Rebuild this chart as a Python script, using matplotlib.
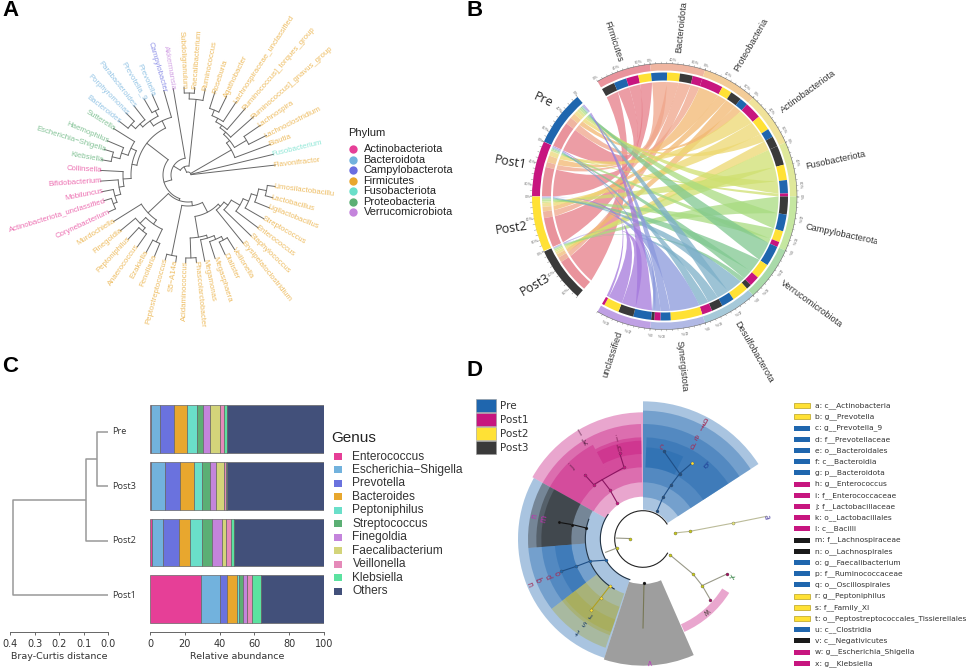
"""Four panel microbiome figure: phylum tree, chord diagram, stacked bars, cladogram."""
import numpy as np

import matplotlib

matplotlib.use("Agg")
import matplotlib.pyplot as plt
from matplotlib.patches import Wedge, Rectangle, PathPatch
from matplotlib.path import Path
from matplotlib.transforms import Bbox

W, H = 969, 670
SANS = "Liberation Sans"

GROUPS = ["Pre", "Post1", "Post2", "Post3"]
GROUP_COLORS = ["#1F66AE", "#C7157F", "#FFE135", "#3A3A3A"]

# ---- panel A
PHYLUM_A = ["Actinobacteriota", "Bacteroidota", "Campylobacterota", "Firmicutes",
            "Fusobacteriota", "Proteobacteria", "Verrucomicrobiota"]
PHYLUM_A_COLORS = ["#E63F97", "#72B2DD", "#6A6EE0", "#E8A72E", "#6ADFC9", "#5BAF74", "#C484DC"]

LEAF_NAMES = ["Flavonifractor", "Fusobacterium", "Blautia", "Lachnoclostridium", "Lachnospira",
              "Ruminococcus]_gnavus_group", "Ruminococcus]_torques_group",
              "Lachnospiraceae_unclassified", "Agathobacter", "Roseburia", "Ruminococcus",
              "Faecalibacterium", "Subdoligranulum", "Akkermansia", "Campylobacter", "Prevotella",
              "Prevotella_9", "Parabacteroides", "Porphyromonas", "Bacteroides", "Sutterella",
              "Haemophilus", "Escherichia\u2212Shigella", "Klebsiella", "Collinsella",
              "Bifidobacterium", "Mobiluncus", "Actinobacteriota_unclassified", "Corynebacterium",
              "Murdochiella", "Finegoldia", "Peptoniphilus", "Anaerococcus", "Ezakiella",
              "Fenollaria", "Peptostreptococcus", "S5\u2212A14a", "Acidaminococcus",
              "Phascolarctobacter", "Megamonas", "Megasphaera", "Dialister", "Veillonella",
              "Erysipelatoclostridium", "Staphylococcus", "Enterococcus", "Streptococcus",
              "Ligilactobacillus", "Lactobacillus", "Limosilactobacillu"]
LEAF_ANGLES = [6.5, 13.6, 20.4, 26.8, 34.5, 41.6, 49.3, 56.6, 63.9, 72, 78.7, 85.6, 92.6, 99.7,
               106, 114, 120, 128, 135, 142, 148, 157, 163, 170, 177, 184, 191, 197, 205,
               212, 219.5, 227, 234.8, 241.6, 247.6, 255, 262, 268.5, 275.5, 281, 288, 295,
               302, 309, 316, 323, 330, 338, 345, 352.5]
LEAF_PHYLA = [3, 4] + [3] * 11 + [6, 2] + [1] * 5 + [5] * 4 + [0] * 5 + [3] * 21

# (radius, children), a child is a leaf number or another clade
LACHNO = (50, [2, (54, [(68, [3, 4]), (57, [5, (60, [6, (64, [7, (70, [8, 9])])])])])])
RUMINO = (76, [10, (82, [11, 12])])
BACTERO = (66, [(72, [15, 16]), (70, [17, (76, [18, 19])])])
BACT_CAMPY = (60, [14, BACTERO])
PROTEO = (63, [20, (70, [21, (78, [22, 23])])])
ACTINO = (65, [24, (70, [25, (76, [26, (80, [27, 28])])])])
LEFT = (52, [BACT_CAMPY, (57, [PROTEO, ACTINO])])
MURDO = (55, [29, (60, [(68, [30, (72, [31, 32])]), (74, [33, 34])])])
PEPTO = (82, [35, 36])
NEGATIVI = (63, [(83, [37, 38]), (66, [39, (70, [40, (74, [41, 42])])])])
BACILLI = (45, [43, (50, [44, (60, [45, (66, [46, (72, [47, (80, [48, 49])])])])])])
LOWER = (27, [MURDO, (31, [PEPTO, (42, [NEGATIVI, BACILLI])])])
TREE = (3, [0, 1, LACHNO, (9, [RUMINO, (17, [13, (25, [LEFT, LOWER])])])])
TREE_TIP = 88

# ---- panel B
PHYLA_B = ["Firmicutes", "Bacteroidota", "Proteobacteria", "Actinobacteriota", "Fusobacteriota",
           "Campylobacterota", "Verrucomicrobiota", "Desulfobacterota", "Synergistota", "unclassified"]
PHYLA_B_COLORS = ["#E9939C", "#EFB5A0", "#F3CC98", "#F0E29A", "#DFE89A",
                  "#C5E7A1", "#A9DAA9", "#A6C9D9", "#B1B9E5", "#BFA0E4"]
LINK_COLORS = ["#E67C87", "#EFA58A", "#F2B870", "#EDD870", "#CFE070",
               "#A8DB80", "#80C890", "#7CAFC8", "#8A98DC", "#A478DC"]
# share of each phylum in each group, rows follow GROUPS
GROUP_SHARES = [
    [0.50, 0.14, 0.10, 0.08, 0.05, 0.04, 0.03, 0.02, 0.02, 0.02],
    [0.57, 0.10, 0.13, 0.09, 0.01, 0.03, 0.02, 0.02, 0.01, 0.02],
    [0.58, 0.13, 0.09, 0.07, 0.03, 0.04, 0.02, 0.02, 0.01, 0.01],
    [0.68, 0.10, 0.07, 0.05, 0.03, 0.03, 0.01, 0.01, 0.01, 0.01],
]
# clockwise order of groups inside each phylum sector, with their shares
PHYLUM_ORDER = [[3, 0, 1, 2], [0, 2, 3, 1], [1, 2, 3, 0], [1, 2, 0, 3], [3, 2, 0, 1],
                [3, 0, 2, 1], [0, 2, 1, 3], [2, 0, 3, 1], [2, 0, 1, 3], [0, 3, 2, 1]]
PHYLUM_SHARES = [[0.26, 0.25, 0.24, 0.25], [0.31, 0.25, 0.25, 0.19], [0.42, 0.20, 0.22, 0.16],
                 [0.33, 0.30, 0.17, 0.20], [0.38, 0.30, 0.26, 0.06], [0.35, 0.33, 0.22, 0.10],
                 [0.40, 0.30, 0.20, 0.10], [0.33, 0.25, 0.22, 0.20], [0.62, 0.20, 0.12, 0.06],
                 [0.35, 0.30, 0.30, 0.05]]

# ---- panel C
GENERA = ["Enterococcus", "Escherichia\u2212Shigella", "Prevotella", "Bacteroides", "Peptoniphilus",
          "Streptococcus", "Finegoldia", "Faecalibacterium", "Veillonella", "Klebsiella", "Others"]
GENUS_COLORS = ["#E63F97", "#72B2DD", "#6A72DE", "#E8A72E", "#6ADFC9", "#5BAF74",
                "#C484DC", "#D3D47A", "#E58AB9", "#5BE2A0", "#42507A"]
BAR_SAMPLES = ["Pre", "Post3", "Post2", "Post1"]
ABUNDANCE = {
    "Pre": [0.6, 5.4, 7.9, 7.3, 5.7, 3.8, 3.8, 5.7, 2.5, 1.3, 56.1],
    "Post3": [0.5, 8.2, 8.6, 7.9, 4.6, 4.4, 3.8, 4.4, 1.5, 0.2, 55.8],
    "Post2": [1.0, 6.7, 9.0, 6.1, 7.3, 5.6, 5.6, 2.3, 3.0, 1.7, 51.7],
    "Post1": [29.3, 11.1, 3.8, 5.6, 1.1, 2.3, 2.3, 0.4, 2.9, 5.2, 35.9],
}
# Bray-Curtis heights of the three merges
MERGE_PRE_POST3 = 0.045
MERGE_POST2 = 0.0915
MERGE_POST1 = 0.389
DIST_TICKS = [0.4, 0.3, 0.2, 0.1, 0.0]
ABUND_TICKS = [0, 20, 40, 60, 80, 100]

# ---- panel D
# theta1, theta2, inner radius, outer radius, colour
CLADE_WEDGES = [
    (33, 90, 88, 413, "#1F66AE"), (33, 90, 125, 385, "#1F66AE"), (33, 90, 170, 345, "#1F66AE"),
    (33, 88, 215, 305, "#1F66AE"), (64, 88, 215, 275, "#1F66AE"),
    (90, 150.8, 127, 380, "#C7157F"), (91, 150.8, 170, 345, "#C7157F"),
    (91, 118, 215, 305, "#C7157F"), (91, 118, 255, 295, "#C7157F"), (118, 150.8, 215, 320, "#C7157F"),
    (150.8, 252, 127, 375, "#1F66AE"),
    (150.8, 184.5, 173, 345, "#222222"), (150.8, 184.5, 215, 320, "#222222"), (150.8, 184.5, 215, 305, "#222222"),
    (184.5, 217.4, 173, 345, "#1F66AE"), (184.5, 217.4, 215, 305, "#1F66AE"), (184.5, 217.4, 215, 265, "#1F66AE"),
    (217.4, 251, 173, 345, "#A8A838"), (217.4, 251, 215, 305, "#A8A838"), (217.4, 251, 255, 295, "#A8A838"),
    (252, 293.6, 135, 380, "#000000"),
    (294, 328, 280, 305, "#C7157F"),
]
# branch polylines as (angle, radius), with branch colour
CLADE_BRANCHES = [
    ([(63.2, 93), (64.4, 139), (62.5, 184), (60.7, 225), (76.5, 270)], "#1F4F86"),
    ([(60.7, 225), (57.2, 271)], "#1F4F86"),
    ([(125.5, 133), (124, 179), (124.6, 216), (132.2, 220), (132.2, 260)], "#8A1560"),
    ([(124.6, 216), (104.8, 222), (105.2, 267)], "#8A1560"),
    ([(169, 173), (168.5, 216), (168.8, 257)], "#111111"),
    ([(210, 127), (202.7, 173), (202.3, 216), (201.6, 263)], "#1F4F86"),
    ([(234.8, 174), (234.3, 218), (233.8, 263)], "#B0A020"),
    ([(271.3, 132), (270, 267)], "#777755"),
    ([(10.7, 97), (9.3, 142), (10, 274), (10.4, 376)], "#BBBB99"),
    ([(-30.4, 93), (-35, 183), (-38.2, 226), (-22.6, 273)], "#999988"),
    ([(-38.2, 226), (-42, 272)], "#999988"),
    ([(178, 38), (178, 80)], "#999988"),
    ([(199, 82), (199.6, 119)], "#999988"),
]
# arcs: radius, theta1, theta2, colour
CLADE_ARCS = [
    (85, 32, 330, "#222222"), (128, 145, 252, "#223344"), (173, 160, 240, "#223344"),
]
# node dots: angle, radius, colour
CLADE_NODES = [
    (63.2, 93, "#1F4F86"), (64.4, 139, "#1F4F86"), (62.5, 184, "#1F4F86"), (60.7, 225, "#1F4F86"),
    (76.5, 270, "#1F4F86"), (57.2, 271, "#FFE135"),
    (125.5, 133, "#C7157F"), (124, 179, "#C7157F"), (132.2, 220, "#C7157F"), (132.2, 260, "#C7157F"),
    (104.8, 222, "#C7157F"), (105.2, 267, "#C7157F"),
    (169, 173, "#111111"), (168.5, 216, "#111111"), (168.8, 257, "#111111"),
    (210, 127, "#1F66AE"), (202.7, 173, "#1F66AE"), (202.3, 216, "#1F66AE"), (201.6, 263, "#1F66AE"),
    (234.8, 174, "#FFE135"), (234.3, 218, "#FFE135"), (233.8, 263, "#FFE135"),
    (271.3, 132, "#111111"),
    (10.7, 97, "#C8C820"), (9.3, 142, "#C8C820"), (10, 274, "#E8E880"),
    (-30.4, 93, "#C8C820"), (-35, 183, "#C8C820"), (-38.2, 226, "#C8C820"),
    (-22.6, 273, "#A0155F"), (-42, 272, "#A0155F"), (178, 38, "#C8C820"), (199, 82, "#C8C820"),
]
CLADE_LETTERS = ["a", "b", "c", "d", "e", "f", "g", "h", "i", "j", "k", "l",
                 "m", "n", "o", "p", "q", "r", "s", "t", "u", "v", "w", "x"]
LETTER_ANGLES = [10, 50, 78.8, 62.1, 62.3, 62.1, 62.3, 104.9, 104.9, 134.9, 121, 120.7,
                 168.4, 168.2, 201.4, 201.7, 201.5, 235.3, 235.2, 234.9, 201.8, 273, -48.8, -22.9]
LETTER_RADII = [375, 288, 283, 314, 344, 374, 401, 280, 311, 305, 336, 368,
                304, 332, 274, 303, 333, 276, 307, 339, 361, 369, 288, 288]
LETTER_COLORS = ["#5A4FA8", "#1F3F96", "#A0305A", "#A0305A", "#A0305A", "#A0305A", "#A0305A",
                 "#7A1A50", "#7A1A50", "#552244", "#552244", "#552244", "#C030B0", "#C030B0",
                 "#A0305A", "#A0305A", "#A0305A", "#1F3F66", "#1F3F66", "#1F3F66", "#A0305A",
                 "#C030C0", "#554444", "#2F7F3F"]
TAXA = ["c__Actinobacteria", "g__Prevotella", "g__Prevotella_9", "f__Prevotellaceae", "o__Bacteroidales",
        "c__Bacteroidia", "p__Bacteroidota", "g__Enterococcus", "f__Enterococcaceae", "f__Lactobacillaceae",
        "o__Lactobacillales", "c__Bacilli", "f__Lachnospiraceae", "o__Lachnospirales", "g__Faecalibacterium",
        "f__Ruminococcaceae", "o__Oscillospirales", "g__Peptoniphilus", "f__Family_XI",
        "o__Peptostreptococcales_Tissierellales", "c__Clostridia", "c__Negativicutes",
        "g__Escherichia_Shigella", "g__Klebsiella"]
TAXA_GROUP = [2, 2, 0, 0, 0, 0, 0, 1, 1, 1, 1, 1, 3, 3, 0, 0, 0, 2, 2, 2, 0, 3, 1, 1]


def panel_axes(fig, cx, cy, half, unit=1.0):
    """Square clear axes centred on pixel (cx, cy); data unit = 1/unit pixel."""
    ax = fig.add_axes([(cx - half) / W, 1 - (cy + half) / H, 2 * half / W, 2 * half / H])
    ax.set_xlim(-half * unit, half * unit)
    ax.set_ylim(-half * unit, half * unit)
    ax.axis("off")
    ax.patch.set_alpha(0)
    return ax


def polar(angle, r):
    t = np.radians(angle)
    return r * np.cos(t), r * np.sin(t)


def arc_xy(a1, a2, r):
    t = np.radians(np.linspace(a1, a2, 40))
    return np.column_stack([r * np.cos(t), r * np.sin(t)])


def band(ax, a1, a2, r1, r2, color, **kw):
    ax.add_patch(Wedge((0, 0), r2, a1, a2, width=r2 - r1, facecolor=color, edgecolor="none", **kw))


def draw_clade(ax, node):
    if not isinstance(node, tuple):
        return LEAF_ANGLES[node], TREE_TIP
    r, kids = node
    ends = [draw_clade(ax, k) for k in kids]
    for ang, rk in ends:
        ax.plot(*zip(polar(ang, r), polar(ang, rk)), color="#666666", lw=0.7, solid_capstyle="round")
    angs = [e[0] for e in ends]
    pts = arc_xy(min(angs), max(angs), r)
    ax.plot(pts[:, 0], pts[:, 1], color="#666666", lw=0.7)
    return (min(angs) + max(angs)) / 2, r


def panel_a(fig, page):
    ax = panel_axes(fig, 188, 175, 175)
    draw_clade(ax, TREE)
    for name, ang, ph in zip(LEAF_NAMES, LEAF_ANGLES, LEAF_PHYLA):
        x, y = polar(ang, TREE_TIP - 2)
        flip = 90 < ang < 270
        ax.text(x, y, name, rotation=ang - 180 if flip else ang, rotation_mode="anchor",
                ha="right" if flip else "left", va="center", fontsize=5.55, family=SANS,
                color=PHYLUM_A_COLORS[ph], alpha=0.75, clip_on=False)
    page.text(348, 133.5, "Phylum", fontsize=8, family=SANS, va="center", color="#222222")
    for i, (name, col) in enumerate(zip(PHYLUM_A, PHYLUM_A_COLORS)):
        y = 149.3 + i * 10.45
        page.plot([352.7], [y], "o", ms=6, color=col, mec="none")
        page.text(363.5, y, name, fontsize=7.9, family=SANS, va="center", color="#222222")


def edge_control(p, q):
    """Control point for a link edge: deep bend for near ends, flatter for far ones."""
    p, q = np.asarray(p), np.asarray(q)
    gap = np.degrees(np.arccos(np.clip(p.dot(q) / np.linalg.norm(p) / np.linalg.norm(q), -1, 1)))
    k = np.clip((gap - 60) / 120, 0, 1) * 0.65
    return tuple(k * (p + q) / 2)


def ribbon(ax, a1, a2, b1, b2, r_a, r_b, color):
    """Filled link: arc a1-a2 on radius r_a to arc b2-b1 on radius r_b, not twisted."""
    arc_a = arc_xy(a1, a2, r_a)
    arc_b = arc_xy(b2, b1, r_b)
    verts = (list(arc_a) + [edge_control(arc_a[-1], arc_b[0]), arc_b[0]] + list(arc_b[1:])
             + [edge_control(arc_b[-1], arc_a[0]), arc_a[0]])
    codes = ([Path.MOVETO] + [Path.LINETO] * (len(arc_a) - 1) + [Path.CURVE3, Path.CURVE3]
             + [Path.LINETO] * (len(arc_b) - 1) + [Path.CURVE3, Path.CURVE3])
    ax.add_patch(PathPatch(Path(verts, codes), facecolor=color, edgecolor="none", alpha=0.75))


def panel_b(fig, page):
    ax = panel_axes(fig, 664, 196.5, 165)
    shares = np.array(GROUP_SHARES)
    group_start = [131, 155.5, 180, 204.7]
    group_span = 24.4
    phylum_start = [120 - 24 * i for i in range(len(PHYLA_B))]

    # arc on the group side for every link
    g_arc = {}
    for g, start in enumerate(group_start):
        band(ax, start, start + group_span, 124, 132, GROUP_COLORS[g])
        a = start
        for p in range(len(PHYLA_B) - 1, -1, -1):
            da = shares[g, p] * group_span
            g_arc[(g, p)] = (a, a + da)
            band(ax, a, a + da, 113, 122, PHYLA_B_COLORS[p])
            a += da
        for frac in np.arange(0, 1.001, 0.1):
            ang = start + frac * group_span
            ax.plot(*zip(polar(ang, 132), polar(ang, 134)), color="#777777", lw=0.3)
        for frac, lab in zip((0.0, 0.4, 0.8), ("0%", "40%", "80%")):
            xt, yt = polar(start + frac * group_span, 136.5)
            ax.text(xt, yt, lab, fontsize=2.6, color="#777777", ha="center", va="center",
                    rotation=start + frac * group_span - 180)

    links = []
    for p, start in enumerate(phylum_start):
        band(ax, start - 24, start, 126, 133, PHYLA_B_COLORS[p])
        a = start
        for g, sh in zip(PHYLUM_ORDER[p], PHYLUM_SHARES[p]):
            da = sh * 24
            band(ax, a - da, a, 116, 124, GROUP_COLORS[g])
            links.append((g, p, a, a - da))
            a -= da
        edge = arc_xy(start - 24, start, 133)
        ax.plot(edge[:, 0], edge[:, 1], color="#666666", lw=0.4)
        for frac in np.arange(0, 1.001, 0.1):
            ang = start - frac * 24
            ax.plot(*zip(polar(ang, 133), polar(ang, 134.5)), color="#777777", lw=0.3)
        for frac, lab in zip((0.0, 0.4, 0.8), ("0%", "40%", "80%")):
            xt, yt = polar(start - frac * 24, 137)
            ax.text(xt, yt, lab, fontsize=2.6, color="#777777", ha="center", va="center",
                    rotation=start - frac * 24 - 90)

    for g, p, b1, b2 in sorted(links, key=lambda l: l[1]):
        a1, a2 = g_arc[(g, p)]
        ribbon(ax, a1, a2, b1, b2, 111, 114.5, LINK_COLORS[p])

    rotations = [-72, 84, 60, 36, 12, -12, -36, -60, -84, 72]
    for p, name in enumerate(PHYLA_B):
        mid = phylum_start[p] - 12
        right = -90 <= mid <= 90
        x, y = polar(mid, 145 if right else 142)
        t = ax.text(x, y, name, rotation=rotations[p], rotation_mode="anchor",
                    ha="left" if right else "right", va="center",
                    fontsize=6.6, family=SANS, color="#333333", clip_on=False)
        if name == "Campylobacterota":
            t.set_clip_on(True)
            t.set_clip_box(Bbox([[0, 0], [877, H]]))

    for g, (lab_angle, lab_r, rot) in enumerate(((141.4, 155, -25), (167.5, 157, -10),
                                                 (191.6, 156, 8), (214.5, 156, 30))):
        x, y = polar(lab_angle, lab_r)
        ax.text(x, y, GROUPS[g], rotation=rot, ha="center", va="center", fontsize=9,
                family="Open Sans", color="#222222", rotation_mode="anchor", clip_on=False)


def panel_c(fig, page):
    # dendrogram
    ax = fig.add_axes([10 / W, 1 - 632 / H, 98 / W, 232 / H])
    ax.set_xlim(0.4, 0)
    ax.set_ylim(3.676, -0.588)
    line = dict(color="#999999", lw=1.1, solid_capstyle="butt")
    y_post3 = (0 + 1) / 2
    y_post2 = (y_post3 + 2) / 2
    ax.plot([0, MERGE_PRE_POST3, MERGE_PRE_POST3, 0], [0, 0, 1, 1], **line)
    ax.plot([MERGE_PRE_POST3, MERGE_POST2, MERGE_POST2, 0], [y_post3, y_post3, 2, 2], **line)
    ax.plot([MERGE_POST2, MERGE_POST1, MERGE_POST1, 0], [y_post2, y_post2, 3, 3], **line)
    for s in ("top", "left", "right"):
        ax.spines[s].set_visible(False)
    ax.spines["bottom"].set_color("#666666")
    ax.spines["bottom"].set_linewidth(0.7)
    ax.set_yticks([])
    ax.set_xticks(DIST_TICKS)
    ax.set_xticklabels([f"{t:.1f}" for t in DIST_TICKS])
    ax.tick_params(axis="x", length=2.5, width=0.7, color="#666666", labelsize=7, pad=2.5, labelcolor="#333333")
    ax.set_xlabel("Bray-Curtis distance", fontsize=6.8, color="#333333", labelpad=2.5)
    ax.patch.set_alpha(0)
    for i, lab in enumerate(["Pre", "Post3", "Post2", "Post1"]):
        page.text(112, 432 + i * 54.4, lab, fontsize=6.6, family="Open Sans",
                  va="center", color="#333333")

    # stacked bars
    ax = fig.add_axes([150 / W, 1 - 632 / H, 174 / W, 232 / H])
    left = np.zeros(len(BAR_SAMPLES))
    vals = np.array([ABUNDANCE[s] for s in BAR_SAMPLES])
    for j, (genus, col) in enumerate(zip(GENERA, GENUS_COLORS)):
        ax.barh(range(len(BAR_SAMPLES)), vals[:, j], left=left, height=0.84, color=col,
                edgecolor="#666666", linewidth=0.5)
        left += vals[:, j]
    ax.set_xlim(0, 100)
    ax.set_ylim(3.58, -0.511)
    for s in ("top", "left", "right"):
        ax.spines[s].set_visible(False)
    ax.spines["bottom"].set_color("#666666")
    ax.spines["bottom"].set_linewidth(0.7)
    ax.set_yticks([])
    ax.set_xticks(ABUND_TICKS)
    ax.tick_params(axis="x", length=2.5, width=0.7, color="#666666", labelsize=7, pad=2.5, labelcolor="#333333")
    ax.set_xlabel("Relative abundance", fontsize=6.8, color="#333333", labelpad=2.5)

    page.text(331.5, 438.5, "Genus", fontsize=11, family=SANS, va="center", color="#222222")
    for i, (genus, col) in enumerate(zip(GENERA, GENUS_COLORS)):
        y = 456.5 + i * 13.45
        page.add_patch(Rectangle((334, y - 3.5), 8.5, 7, facecolor=col, edgecolor="none"))
        page.text(352.5, y, genus, fontsize=8.6, family=SANS, va="center", color="#333333")


def panel_d(fig, page):
    ax = panel_axes(fig, 643, 539, 165, unit=3.0)
    for t1, t2, r1, r2, col in CLADE_WEDGES:
        band(ax, t1, t2, r1, r2, col, alpha=0.38)
    for r, t1, t2, col in CLADE_ARCS:
        pts = arc_xy(t1, t2, r)
        ax.plot(pts[:, 0], pts[:, 1], color=col, lw=0.8)
    for pts, col in CLADE_BRANCHES:
        xy = [polar(a, r) for a, r in pts]
        ax.plot(*zip(*xy), color=col, lw=0.8)
    for a, r, col in CLADE_NODES:
        x, y = polar(a, r)
        ax.plot([x], [y], "o", ms=2.2, color=col, mec="#444444", mew=0.2)
    for let, a, r, col in zip(CLADE_LETTERS, LETTER_ANGLES, LETTER_RADII, LETTER_COLORS):
        x, y = polar(a, r)
        ax.text(x, y, let, fontsize=5.5, color=col, rotation=a - 90, ha="center", va="center",
                clip_on=False)
    for i, (g, col) in enumerate(zip(GROUPS, GROUP_COLORS)):
        y = 399 + i * 14
        page.add_patch(Rectangle((476, y), 20, 13, facecolor=col, edgecolor="#999999", linewidth=0.4))
        page.text(500, y + 6.7, g, fontsize=7.5, family="DejaVu Sans", va="center", color="#333333")
    for i, (let, taxon, g) in enumerate(zip(CLADE_LETTERS, TAXA, TAXA_GROUP)):
        y = 405.7 + i * 11.2
        page.add_patch(Rectangle((794, y - 2.5), 16, 5, facecolor=GROUP_COLORS[g] if g != 3 else "#1A1A1A",
                                 edgecolor="#B8A020" if g == 2 else "none", linewidth=0.5))
        page.text(815.5, y, f"{let}: {taxon}", fontsize=5.4, family="DejaVu Sans", va="center", color="#333333")


def main():
    fig = plt.figure(figsize=(W / 100, H / 100), dpi=100, facecolor="white")
    page = fig.add_axes([0, 0, 1, 1])
    page.set_xlim(0, W)
    page.set_ylim(H, 0)
    page.axis("off")

    panel_a(fig, page)
    panel_b(fig, page)
    panel_c(fig, page)
    panel_d(fig, page)

    for let, x, y in (("A", 2, 11), ("B", 467, 11), ("C", 2, 367), ("D", 467, 371)):
        page.text(x, y, let, fontsize=16, fontweight="bold", family=SANS, va="center", color="black")

    fig.savefig("out.png", dpi=100, facecolor="white")
    plt.close(fig)


if __name__ == "__main__":
    main()
